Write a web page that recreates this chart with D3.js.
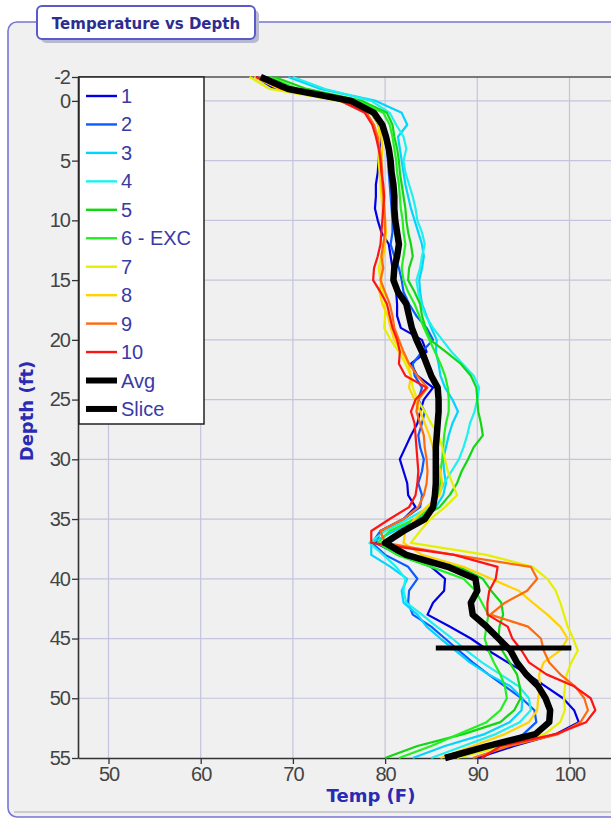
<!DOCTYPE html>
<html>
<head>
<meta charset="utf-8">
<script src="https://cdn.jsdelivr.net/npm/d3@7"></script>
<style>
  html, body { margin: 0; padding: 0; background: #ffffff; overflow: hidden; }
  svg { display: block; }
</style>
</head>
<body>
<svg id="chart" width="611" height="819"></svg>
<script>
// Depth samples (ft) shared by every profile
const depths = [-2,-1,0,1,2,3,4,5,6,7,8,9,10,11,12,13,14,15,16,17,18,19,20,21,22,23,24,25,26,27,28,29,30,31,32,33,34,35,36,37,38,39,40,41,42,43,44,45,46,47,48,49,50,51,52,53,54,55];

// Temperature profiles (F), one value per depth
const temps1  = [66.0,68.0,75.5,78.5,79.3,79.5,79.4,79.3,79.2,79.0,79.0,78.9,79.2,79.6,80.4,80.6,80.8,80.9,81.2,81.3,81.3,81.7,84.0,84.5,82.8,83.5,85.2,84.2,83.8,83.5,82.8,82.2,81.6,82.0,82.4,82.5,83.3,82.0,79.5,79.0,81.5,85.0,86.5,86.4,85.2,84.6,87.0,89.3,91.2,93.3,95.5,97.4,99.3,100.5,101.0,98.5,94.0,90.0];
const temps2  = [66.5,69.0,76.0,78.8,79.6,80.0,80.2,80.3,80.4,80.5,80.6,80.7,80.8,80.8,80.6,81.0,81.5,81.8,82.0,82.6,83.4,84.5,85.2,84.0,83.0,83.2,84.0,83.6,84.3,84.0,83.6,83.8,84.2,84.0,83.6,84.0,83.8,82.0,79.5,78.6,80.0,82.5,83.5,82.6,82.5,83.0,85.0,86.5,88.0,89.5,91.2,93.0,94.8,96.2,96.4,95.0,92.5,90.5];
const temps3  = [69.5,73.0,79.0,81.8,82.4,81.4,81.6,81.8,82.0,82.2,82.5,82.8,83.2,83.6,84.0,84.2,84.0,83.7,83.8,84.0,84.5,85.0,85.6,85.5,85.8,86.0,86.5,87.3,87.9,87.3,86.9,86.6,86.3,86.4,86.6,86.3,85.5,83.5,81.0,78.5,78.5,80.6,82.4,81.8,82.0,83.5,84.5,86.0,87.6,89.2,91.2,93.6,94.9,94.8,93.5,90.8,86.5,83.0];
const temps4  = [70.0,73.5,78.5,80.5,81.2,82.0,82.3,82.0,82.2,82.6,83.0,83.3,83.5,84.0,84.3,84.0,83.8,83.4,83.6,83.9,84.4,85.2,86.2,87.2,88.4,89.6,90.2,90.0,89.7,89.2,88.9,88.5,88.0,87.2,86.4,85.8,84.8,82.5,80.0,78.3,79.8,81.2,82.2,82.0,82.3,84.0,85.6,87.3,88.8,90.5,92.5,94.5,95.6,95.8,94.6,92.0,88.5,85.0];
const temps5  = [68.0,71.5,77.5,80.2,80.8,81.0,81.3,81.5,81.6,81.8,82.0,82.2,82.3,82.5,82.8,83.0,82.6,82.5,83.2,83.8,84.0,84.4,84.9,86.6,88.2,89.3,89.9,90.0,90.1,90.4,90.6,89.6,89.0,88.3,87.8,87.0,85.9,83.8,81.5,79.6,82.2,88.0,90.6,91.5,92.6,92.8,92.4,92.3,92.7,93.5,94.3,94.6,94.7,94.0,92.5,88.5,83.5,80.0];
const temps6  = [67.5,70.5,77.0,79.8,80.5,80.8,81.0,81.2,81.3,81.5,81.6,81.7,81.9,82.0,82.2,82.0,81.8,82.0,82.5,83.2,83.7,84.2,84.8,85.4,86.0,86.5,86.8,86.9,86.9,86.6,86.4,86.3,86.2,86.0,86.0,85.7,85.2,83.2,80.5,79.2,81.3,85.0,88.5,89.8,90.5,91.2,91.0,90.8,91.2,91.8,92.5,93.0,93.2,92.5,91.0,88.0,85.0,81.5];
const temps7  = [65.3,67.5,75.0,78.5,79.3,79.4,79.3,79.3,79.4,79.5,79.6,79.7,79.8,80.0,79.8,79.6,79.3,79.5,79.8,80.0,80.0,79.9,80.6,81.5,82.2,82.8,83.0,83.5,84.3,85.0,85.8,86.2,86.5,86.8,87.3,87.8,86.5,84.9,83.8,82.8,91.0,96.0,97.6,98.5,99.0,99.4,99.8,100.4,100.9,100.2,99.7,99.5,99.4,99.5,99.0,97.3,93.0,87.8];
const temps8  = [65.8,68.5,75.8,78.6,79.4,79.6,79.7,79.6,79.5,79.6,79.8,79.9,80.0,80.1,80.0,79.8,79.6,79.6,79.4,79.7,80.3,80.6,81.0,81.8,82.5,82.8,82.6,83.2,83.8,84.3,84.8,85.2,85.6,86.0,86.2,85.9,84.5,83.2,82.2,82.0,84.0,88.5,91.5,94.5,96.0,97.6,99.0,99.8,99.0,97.2,96.7,96.8,96.6,96.5,95.6,93.0,89.5,86.0];
const temps9  = [66.3,69.0,75.5,78.0,78.8,79.2,79.4,79.6,79.7,79.7,79.8,79.9,80.0,80.0,79.8,79.6,79.8,79.5,80.0,80.5,80.8,81.0,81.5,82.0,82.6,83.5,84.6,83.6,83.4,83.8,84.2,84.3,84.5,84.6,84.5,84.2,83.6,82.0,79.5,80.0,87.5,95.8,96.5,95.4,93.0,91.4,95.5,96.9,97.2,97.8,99.0,100.6,101.6,102.0,101.2,98.8,93.5,89.5];
const temps10 = [66.0,68.8,75.2,77.8,78.6,79.0,79.3,79.5,79.6,79.8,79.9,79.8,79.7,79.6,79.5,79.2,78.8,78.7,79.5,80.2,80.5,80.8,81.3,81.6,81.5,82.2,84.5,83.3,82.8,83.2,83.3,83.4,83.5,83.6,83.5,83.3,82.6,80.5,78.5,78.5,87.5,92.2,92.0,91.3,91.1,91.1,93.3,93.8,94.8,95.6,97.5,100.5,102.3,102.8,101.8,98.5,92.5,90.5];
const avgTemps = [66.5,69.5,76.3,78.8,79.7,80.1,80.4,80.6,80.7,80.9,81.0,81.0,81.1,81.3,81.5,81.3,81.0,80.9,81.4,82.3,82.6,82.9,83.4,84.0,84.5,85.0,85.7,85.8,85.8,85.7,85.6,85.5,85.5,85.5,85.5,85.4,85.2,84.3,82.0,80.0,82.3,86.8,89.8,90.0,89.3,89.5,91.0,92.3,93.6,94.3,95.3,96.6,97.4,97.9,97.8,96.3,91.1,86.5];

// Slice marker: a horizontal bar at one depth
const sliceDepths = [45.8, 45.8];
const sliceTemps = [85.5, 100.2];

const seriesNames = ["1","2","3","4","5","6 - EXC","7","8","9","10"];
const seriesTemps = [temps1,temps2,temps3,temps4,temps5,temps6,temps7,temps8,temps9,temps10];
const seriesColors = ["#0000e6","#0a5cff","#00d4ff","#1ef0ee","#10d810","#22f022","#e4f000","#ffd200","#ff6a10","#ff1414"];

const xTicks = [50,60,70,80,90,100];
const yTicks = [-2,0,5,10,15,20,25,30,35,40,45,50,55];
const titleText = "Temperature vs Depth";
const xTitle = "Temp (F)";
const yTitle = "Depth (ft)";

(function draw() {
  const svg = d3.select("#chart");
  const tickFont = "'Liberation Sans', Arial, sans-serif";
  const boldFont = "'DejaVu Sans', Verdana, sans-serif";

  // Outer panel
  svg.append("rect")
    .attr("x", 8).attr("y", 22).attr("width", 660).attr("height", 795)
    .attr("rx", 9)
    .attr("fill", "#f0f0f0").attr("stroke", "#7676d6").attr("stroke-width", 1.6);
  svg.append("line")
    .attr("x1", 14).attr("x2", 611).attr("y1", 812).attr("y2", 812)
    .attr("stroke", "#a8a8a8").attr("stroke-width", 1.2);

  // Plot geometry
  const pLeft = 78, pTop = 77, pBottom = 758, pRight = 660;
  const x = d3.scaleLinear().domain([50, 100]).range([108.5, 569.5]);
  x.domain([x.invert(pLeft), x.invert(pRight)]).range([pLeft, pRight]);
  const y = d3.scaleLinear().domain([-2, 55]).range([pTop, pBottom]);

  // Grid
  const grid = svg.append("g").attr("stroke", "#c4c4de").attr("stroke-width", 1.2);
  grid.selectAll("line.v").data(xTicks).join("line")
    .attr("class", "v")
    .attr("x1", d => x(d)).attr("x2", d => x(d))
    .attr("y1", pTop).attr("y2", pBottom);
  grid.selectAll("line.h").data(yTicks.filter(d => d > -2 && d < 55)).join("line")
    .attr("class", "h")
    .attr("x1", pLeft).attr("x2", pRight)
    .attr("y1", d => y(d)).attr("y2", d => y(d));

  // Top border
  svg.append("line")
    .attr("x1", pLeft).attr("x2", pRight).attr("y1", pTop).attr("y2", pTop)
    .attr("stroke", "#505050").attr("stroke-width", 1.5);

  // Axes (plain hyphen for negative labels)
  const plain = d => String(d);
  const yAxis = svg.append("g")
    .attr("transform", `translate(${pLeft},0)`)
    .call(d3.axisLeft(y).tickValues(yTicks).tickFormat(plain).tickSize(6).tickPadding(2).tickSizeOuter(0));
  const xAxis = svg.append("g")
    .attr("transform", `translate(0,${pBottom})`)
    .call(d3.axisBottom(x).tickValues(xTicks).tickFormat(plain).tickSize(6).tickPadding(3).tickSizeOuter(0));
  [yAxis, xAxis].forEach(g => {
    g.select(".domain").attr("stroke", "#333").attr("stroke-width", 1.6);
    g.selectAll(".tick line").attr("stroke", "#333").attr("stroke-width", 1.3);
    g.selectAll(".tick text")
      .attr("fill", "#444")
      .style("font-family", tickFont)
      .style("font-size", "20px")
      .style("letter-spacing", "-1px");
  });

  // Profiles
  const line = d3.line()
    .x(d => x(d.t))
    .y(d => y(d.d));

  const plot = svg.append("g");
  seriesTemps.forEach((temps, i) => {
    const pts = depths.map((d, k) => ({ d: d, t: temps[k] }));
    plot.append("path")
      .datum(pts)
      .attr("fill", "none")
      .attr("stroke", seriesColors[i])
      .attr("stroke-width", 2.2)
      .attr("stroke-linejoin", "round")
      .attr("d", line);
  });

  plot.append("path")
    .datum(depths.map((d, k) => ({ d: d, t: avgTemps[k] })))
    .attr("fill", "none")
    .attr("stroke", "#000")
    .attr("stroke-width", 6.5)
    .attr("stroke-linejoin", "round")
    .attr("d", line);

  plot.append("path")
    .datum(sliceTemps.map((t, k) => ({ d: sliceDepths[k], t: t })))
    .attr("fill", "none")
    .attr("stroke", "#000")
    .attr("stroke-width", 5)
    .attr("d", line);

  // Legend
  const legendNames = seriesNames.concat(["Avg", "Slice"]);
  const legendColors = seriesColors.concat(["#000", "#000"]);
  const legend = svg.append("g");
  legend.append("rect")
    .attr("x", 79).attr("y", 77).attr("width", 125).attr("height", 347)
    .attr("fill", "#ffffff").attr("stroke", "#222").attr("stroke-width", 1.5);
  legendNames.forEach((name, i) => {
    const cy = 96 + i * 28.45;
    legend.append("line")
      .attr("x1", 86).attr("x2", 117).attr("y1", cy).attr("y2", cy)
      .attr("stroke", legendColors[i])
      .attr("stroke-width", i >= 10 ? 6 : 2.4);
    legend.append("text")
      .attr("x", 121).attr("y", cy + 7)
      .attr("fill", "#3a3aa6")
      .style("font-family", tickFont)
      .style("font-size", "20px")
      .text(name);
  });

  // Axis titles
  svg.append("text")
    .attr("transform", "translate(33,411) rotate(-90)")
    .attr("text-anchor", "middle")
    .attr("fill", "#2a2ab2")
    .style("font-family", boldFont)
    .style("font-weight", "bold")
    .style("font-size", "18px")
    .text(yTitle);
  svg.append("text")
    .attr("x", 371).attr("y", 802)
    .attr("text-anchor", "middle")
    .attr("fill", "#2a2ab2")
    .style("font-family", boldFont)
    .style("font-weight", "bold")
    .style("font-size", "18px")
    .text(xTitle);

  // Title badge
  svg.append("rect")
    .attr("x", 41).attr("y", 10).attr("width", 218).attr("height", 33).attr("rx", 5)
    .attr("fill", "#b9b9cf");
  svg.append("rect")
    .attr("x", 37).attr("y", 6).attr("width", 218).attr("height", 33).attr("rx", 5)
    .attr("fill", "#ffffff").attr("stroke", "#5a5ac8").attr("stroke-width", 2);
  svg.append("text")
    .attr("x", 146).attr("y", 28.5)
    .attr("text-anchor", "middle")
    .attr("fill", "#2d2d90")
    .style("font-family", boldFont)
    .style("font-weight", "bold")
    .style("font-size", "15px")
    .text(titleText);
})();
</script>
</body>
</html>
